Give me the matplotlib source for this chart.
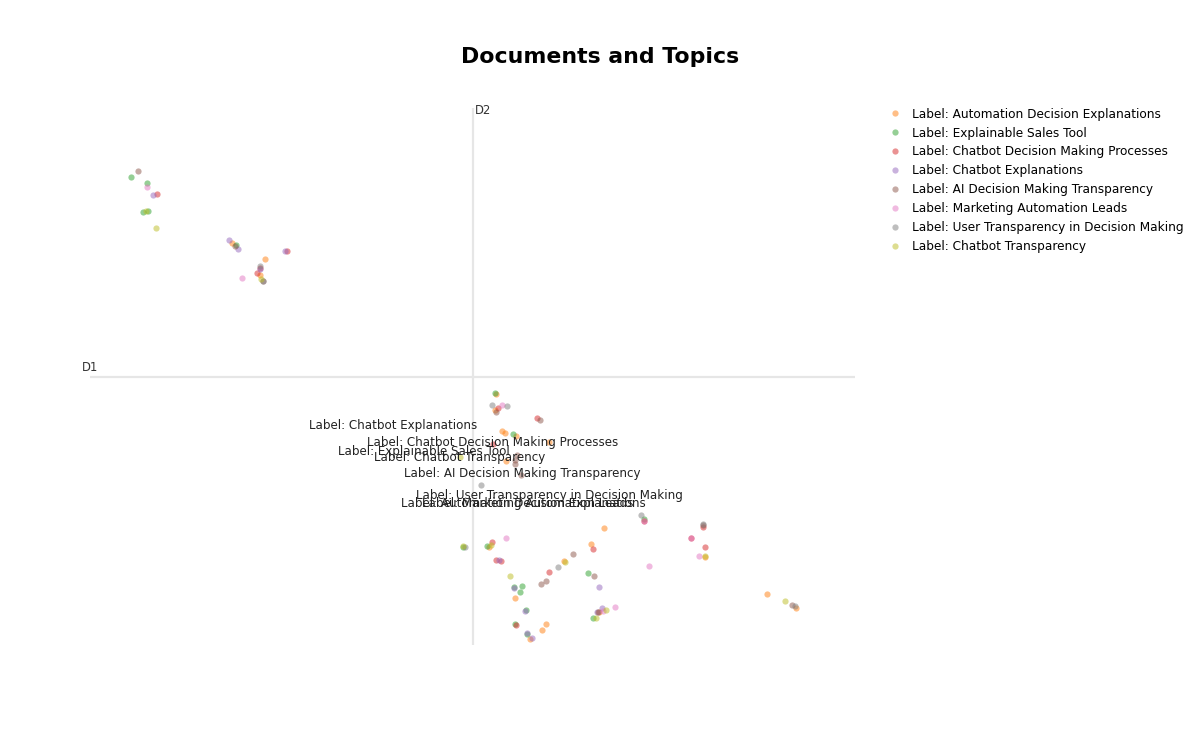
import matplotlib.pyplot as plt
from matplotlib.lines import Line2D

# TOPICS ---------------------------------------------------------------------------
topic_names = ['Label: Automation Decision Explanations',
               'Label: Explainable Sales Tool',
               'Label: Chatbot Decision Making Processes',
               'Label: Chatbot Explanations',
               'Label: AI Decision Making Transparency',
               'Label: Marketing Automation Leads',
               'Label: User Transparency in Decision Making',
               'Label: Chatbot Transparency']
topic_colors = ['#ff7f0e', '#2ca02c', '#d62728', '#9467bd',
                '#8c564b', '#e377c2', '#7f7f7f', '#bcbd22']

# DOCUMENT COORDINATES (D1, D2) per topic --------------------------------------------
docs_0 = [(-4.82, 2.69), (-4.16, 2.36), (-4.27, 2.05), (0.46, -0.33), (0.44, -0.66),
          (0.58, -1.07), (0.65, -1.12), (0.87, -1.18), (1.53, -1.29), (0.67, -1.68),
          (2.63, -3.01), (0.32, -3.40), (2.37, -3.33), (1.83, -3.67), (0.84, -4.42),
          (2.53, -4.69), (1.46, -4.94), (1.39, -5.05), (1.14, -5.23), (4.64, -3.59),
          (5.88, -4.34), (6.46, -4.62)]
docs_1 = [(-6.85, 4.01), (-6.53, 3.88), (-6.60, 3.31), (-6.51, 3.32), (-4.73, 2.65),
          (0.45, -0.31), (0.80, -1.13), (3.43, -2.83), (-0.20, -3.39), (0.28, -3.37),
          (2.30, -3.91), (0.99, -4.17), (0.83, -4.20), (0.95, -4.29), (1.07, -4.65),
          (2.41, -4.81), (0.84, -4.93), (1.09, -5.14)]
docs_2 = [(-6.32, 3.67), (-3.73, 2.52), (-4.26, 2.19), (-4.32, 2.09), (0.51, -0.62),
          (1.29, -0.81), (0.41, -1.33), (0.39, -3.30), (2.41, -3.44), (0.47, -3.65),
          (0.57, -3.68), (1.52, -3.89), (0.87, -4.96), (3.42, -2.87), (4.61, -2.99),
          (4.37, -3.22), (4.64, -3.39)]
docs_3 = [(-6.41, 3.65), (-4.88, 2.75), (-4.70, 2.57), (-3.77, 2.53), (-4.26, 2.16),
          (0.53, -3.65), (0.81, -4.22), (2.52, -4.20), (2.58, -4.61), (2.48, -4.69),
          (1.04, -4.67), (1.09, -5.11), (1.19, -5.21)]
docs_4 = [(-6.69, 4.11), (-4.75, 2.63), (-4.20, 1.93), (0.47, -0.69), (1.33, -0.85),
          (0.84, -1.66), (0.85, -1.73), (0.89, -1.56), (0.97, -1.95), (2.01, -3.53),
          (2.42, -3.97), (1.47, -4.07), (1.35, -4.13), (2.51, -4.70), (4.61, -2.95),
          (6.39, -4.56)]
docs_5 = [(-6.52, 3.80), (-4.62, 1.99), (0.59, -0.55), (0.67, -3.21), (3.52, -3.77),
          (2.85, -4.59), (2.60, -4.68), (4.52, -3.57), (4.37, -3.22), (3.42, -2.87)]
docs_6 = [(0.39, -0.55), (0.68, -0.58), (0.16, -2.15), (3.37, -2.75), (-0.16, -3.40),
          (1.70, -3.79), (4.61, -2.94), (6.44, -4.58), (-4.26, 2.22), (-4.20, 1.92)]
docs_7 = [(-6.55, 3.33), (-6.34, 2.99), (-4.24, 1.97), (-0.25, -1.59), (0.37, -3.35),
          (1.85, -3.69), (0.75, -3.97), (2.67, -4.65), (2.47, -4.81), (4.65, -3.57),
          (6.24, -4.47), (-0.20, -3.38)]
topic_docs = [docs_0, docs_1, docs_2, docs_3, docs_4, docs_5, docs_6, docs_7]

# topic label positions (text centres) - they overlap in the original too
label_pos = [(1.00, -2.52), (-0.99, -1.48), (0.40, -1.31), (-1.60, -0.96),
             (0.98, -1.94), (1.10, -2.52), (1.52, -2.37), (-0.26, -1.60)]

x_range = (-7.66, 7.64)
y_range = (-5.36, 5.38)

# PLOT -------------------------------------------------------------------------------
fig = plt.figure(figsize=(12, 7.5), dpi=100)
ax = fig.add_axes([0.075, 0.14, 0.6375, 0.716])

ax.axvline(0, color='#e6e6e6', lw=1.6, zorder=0)
ax.axhline(0, color='#e6e6e6', lw=1.6, zorder=0)

for docs, c in zip(topic_docs, topic_colors):
    xs = [p[0] for p in docs]
    ys = [p[1] for p in docs]
    ax.scatter(xs, ys, s=20, color=c, alpha=0.5, linewidths=0, zorder=2)

for name, (lx, ly) in zip(topic_names, label_pos):
    ax.text(lx, ly, name, ha='center', va='center', fontsize=8.6, color='#222222', zorder=3)

ax.text(x_range[0] - 0.16, 0.06, 'D1', fontsize=8.4, color='#333333', va='bottom')
ax.text(0.04, y_range[1] - 0.05, 'D2', fontsize=8.4, color='#333333', va='center')

ax.set_xlim(*x_range)
ax.set_ylim(*y_range)
ax.axis('off')

handles = [Line2D([], [], marker='o', ls='', color=c, alpha=0.5, markersize=4.5,
                  markeredgewidth=0) for c in topic_colors]
fig.legend(handles, topic_names, loc='upper left', bbox_to_anchor=(0.737, 0.863),
           frameon=False, fontsize=8.7, handlelength=1.0, handletextpad=0.9,
           labelspacing=0.49, borderaxespad=0)

fig.text(0.5, 0.924, 'Documents and Topics', ha='center', va='center',
         fontsize=15.8, fontweight='bold')

fig.savefig('out.png', dpi=100)
